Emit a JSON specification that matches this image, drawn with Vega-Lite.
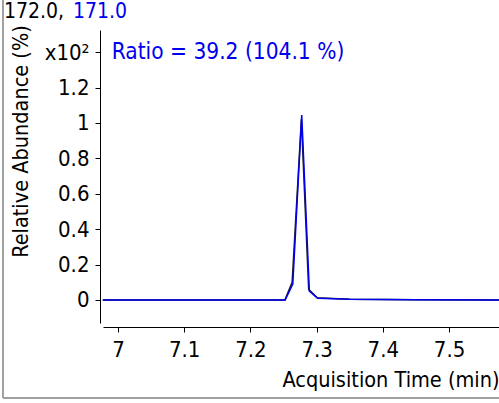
{
  "$schema": "https://vega.github.io/schema/vega-lite/v6.json",
  "width": 396,
  "height": 293,
  "autosize": "none",
  "padding": {"left": 103, "top": 30, "right": 0, "bottom": 80},
  "background": "white",
  "config": {
    "view": {"stroke": null},
    "font": "DejaVu Sans Condensed",
    "axis": {
      "grid": false,
      "domainColor": "#000000",
      "tickColor": "#000000",
      "labelColor": "#000000",
      "titleColor": "#000000",
      "labelFont": "DejaVu Sans Condensed",
      "titleFont": "DejaVu Sans Condensed",
      "labelFontSize": 22,
      "titleFontSize": 21.5,
      "labelFontWeight": "normal",
      "titleFontWeight": "normal",
      "tickSize": 5,
      "domainWidth": 1,
      "tickWidth": 1
    }
  },
  "datasets": {
    "trace": [
      {"t": 6.977, "v": 0, "ion": "172.0"},
      {"t": 7.1, "v": 0, "ion": "172.0"},
      {"t": 7.252, "v": 0, "ion": "172.0"},
      {"t": 7.263, "v": 0.1, "ion": "172.0"},
      {"t": 7.277, "v": 1.02, "ion": "172.0"},
      {"t": 7.288, "v": 0.06, "ion": "172.0"},
      {"t": 7.301, "v": 0.012, "ion": "172.0"},
      {"t": 7.35, "v": 0.004, "ion": "172.0"},
      {"t": 7.45, "v": 0.001, "ion": "172.0"},
      {"t": 7.5755, "v": 0, "ion": "172.0"},
      {"t": 6.977, "v": 0, "ion": "171.0"},
      {"t": 7.1, "v": 0, "ion": "171.0"},
      {"t": 7.2525, "v": 0, "ion": "171.0"},
      {"t": 7.264, "v": 0.09, "ion": "171.0"},
      {"t": 7.2775, "v": 1.045, "ion": "171.0"},
      {"t": 7.289, "v": 0.05, "ion": "171.0"},
      {"t": 7.3015, "v": 0.01, "ion": "171.0"},
      {"t": 7.35, "v": 0.004, "ion": "171.0"},
      {"t": 7.45, "v": 0.001, "ion": "171.0"},
      {"t": 7.5755, "v": 0, "ion": "171.0"}
    ],
    "one": [{}]
  },
  "layer": [
    {
      "data": {"name": "trace"},
      "transform": [{"filter": "datum.ion === '172.0'"}],
      "mark": {"type": "line", "color": "#202020", "strokeWidth": 1.5},
      "encoding": {
        "x": {
          "field": "t", "type": "quantitative",
          "scale": {"domain": [6.9773, 7.5755], "nice": false, "zero": false},
          "axis": {
            "title": "Acquisition Time (min)",
            "values": [7, 7.1, 7.2, 7.3, 7.4, 7.5],
            "labelExpr": "format(datum.value, '.1~f')",
            "offset": 4,
            "labelPadding": 7,
            "titleAnchor": "end",
            "titleAlign": "right",
            "titlePadding": 9
          }
        },
        "y": {
          "field": "v", "type": "quantitative",
          "scale": {"domain": [-0.13, 1.525], "nice": false, "zero": false},
          "axis": {
            "title": "Relative Abundance (%)",
            "values": [0, 0.2, 0.4, 0.6, 0.8, 1, 1.2, 1.4],
            "labelExpr": "datum.value > 1.3 ? 'x10²' : format(datum.value, '.1~f')",
            "offset": 3,
            "labelPadding": 6,
            "titlePadding": 12,
            "titleY": 111
          }
        }
      }
    },
    {
      "data": {"name": "trace"},
      "transform": [{"filter": "datum.ion === '171.0'"}],
      "mark": {"type": "line", "color": "#0000ee", "strokeWidth": 1.5},
      "encoding": {
        "x": {"field": "t", "type": "quantitative"},
        "y": {"field": "v", "type": "quantitative"}
      }
    },
    {
      "data": {"name": "one"},
      "mark": {"type": "text", "align": "left", "baseline": "alphabetic", "fontSize": 22.5, "color": "#0000ee"},
      "encoding": {
        "x": {"datum": 6.9904},
        "y": {"datum": 1.3616},
        "text": {"value": "Ratio = 39.2 (104.1 %)"}
      }
    },
    {
      "data": {"name": "one"},
      "mark": {"type": "text", "align": "left", "baseline": "alphabetic", "fontSize": 21, "color": "#000000"},
      "encoding": {
        "x": {"datum": 6.8277},
        "y": {"datum": 1.591},
        "text": {"value": "172.0,"}
      }
    },
    {
      "data": {"name": "one"},
      "mark": {"type": "text", "align": "left", "baseline": "alphabetic", "fontSize": 21, "color": "#0000ee"},
      "encoding": {
        "x": {"datum": 6.932},
        "y": {"datum": 1.591},
        "text": {"value": "171.0"}
      }
    },
    {
      "data": {"name": "one"},
      "mark": {"type": "rule", "color": "#a0a0a0", "strokeWidth": 2},
      "encoding": {
        "x": {"datum": 6.8262},
        "y": {"datum": 1.70},
        "y2": {"datum": -0.5535}
      }
    },
    {
      "data": {"name": "one"},
      "mark": {"type": "rule", "color": "#a0a0a0", "strokeWidth": 2},
      "encoding": {
        "y": {"datum": -0.5535},
        "x": {"datum": 6.8262},
        "x2": {"datum": 7.58}
      }
    }
  ]
}
